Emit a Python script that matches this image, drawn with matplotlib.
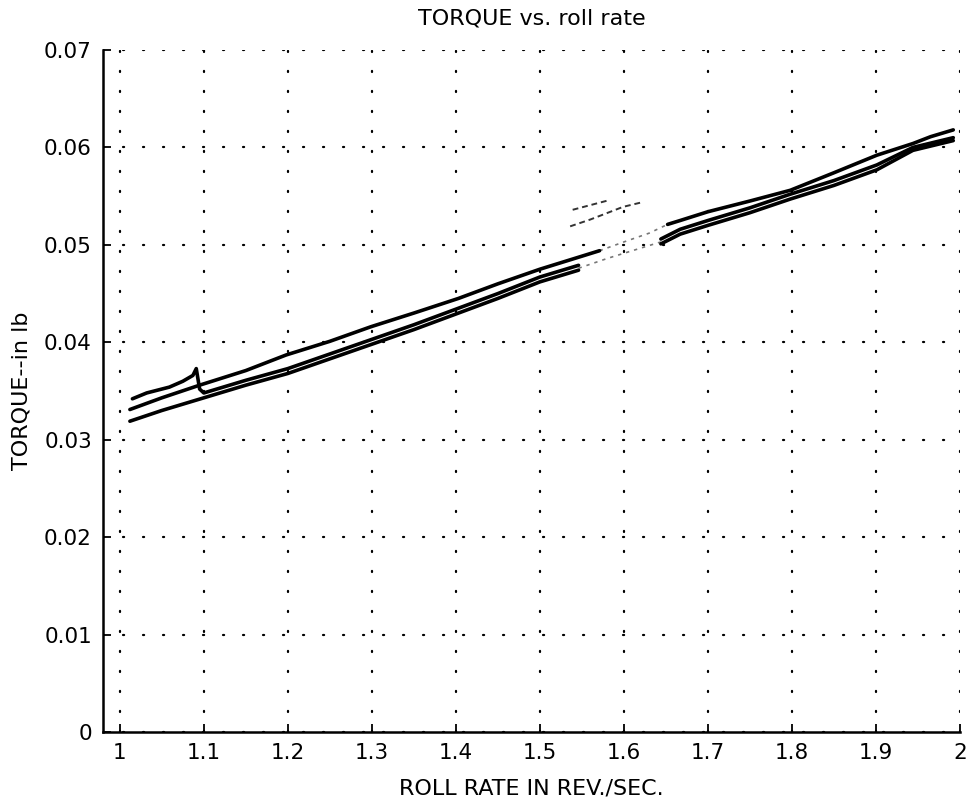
import numpy as np
import matplotlib
matplotlib.use("Agg")
import matplotlib.pyplot as plt

# ============================
# DATA (roll rate in rev/sec, torque in in-lb)
# ============================

# run A: upper trace, rises to a spike near 1.09 then drops into the lower band
runA_x = [1.015, 1.032, 1.059, 1.075, 1.087, 1.091, 1.095, 1.10, 1.15, 1.20, 1.25,
          1.30, 1.35, 1.40, 1.45, 1.50, 1.546]
runA_y = [0.0342, 0.0348, 0.0354, 0.0360, 0.0366, 0.0373, 0.0352, 0.0348, 0.0361,
          0.0373, 0.0388, 0.0403, 0.0418, 0.0434, 0.0450, 0.0467, 0.0479]
runA2_x = [1.644, 1.667, 1.70, 1.75, 1.798, 1.85, 1.901, 1.944, 1.992]
runA2_y = [0.0506, 0.0516, 0.0525, 0.0538, 0.0552, 0.0566, 0.0582, 0.0600, 0.0610]

# run B: middle trace at start, top trace for the rest of the sweep
runB_x = [1.012, 1.05, 1.095, 1.15, 1.198, 1.25, 1.299, 1.35, 1.403, 1.45, 1.50, 1.571]
runB_y = [0.0331, 0.0343, 0.0356, 0.0371, 0.0387, 0.0401, 0.0416, 0.0430, 0.0445,
          0.0460, 0.0475, 0.0494]
runB2_x = [1.652, 1.667, 1.70, 1.75, 1.798, 1.85, 1.901, 1.944, 1.965, 1.992]
runB2_y = [0.0521, 0.0525, 0.0534, 0.0545, 0.0556, 0.0574, 0.0592, 0.0604, 0.0611, 0.0618]

# run C: lowest trace
runC_x = [1.012, 1.05, 1.10, 1.15, 1.20, 1.25, 1.30, 1.35, 1.40, 1.45, 1.50, 1.546]
runC_y = [0.0319, 0.0330, 0.0343, 0.0356, 0.0368, 0.0383, 0.0398, 0.0413, 0.0429,
          0.0445, 0.0462, 0.0474]
runC2_x = [1.644, 1.667, 1.70, 1.75, 1.798, 1.85, 1.901, 1.944, 1.992]
runC2_y = [0.0501, 0.0511, 0.0520, 0.0533, 0.0547, 0.0561, 0.0577, 0.0597, 0.0607]

# faded stretch of the plotter output around 1.55 - 1.65
fadeB_x = [1.571, 1.60, 1.63, 1.652]
fadeB_y = [0.0494, 0.0503, 0.0512, 0.0521]
fadeC_x = [1.546, 1.58, 1.61, 1.644]
fadeC_y = [0.0476, 0.0486, 0.0494, 0.0503]
ghost1_x = [1.539, 1.583]
ghost1_y = [0.0536, 0.0546]
ghost2_x = [1.536, 1.560, 1.599, 1.623]
ghost2_y = [0.0519, 0.0526, 0.0539, 0.0544]

xticks = [1, 1.1, 1.2, 1.3, 1.4, 1.5, 1.6, 1.7, 1.8, 1.9, 2]
xtick_labels = ["1", "1.1", "1.2", "1.3", "1.4", "1.5", "1.6", "1.7", "1.8", "1.9", "2"]
yticks = [0, 0.01, 0.02, 0.03, 0.04, 0.05, 0.06, 0.07]
ytick_labels = ["0", "0.01", "0.02", "0.03", "0.04", "0.05", "0.06", "0.07"]

# ============================
# PLOT
# ============================

plt.rcParams['font.family'] = ['DejaVu Sans']

fig = plt.figure(figsize=(9.69, 8.01), dpi=100)
ax = fig.add_axes([0.1063, 0.0861, 0.8844, 0.8515])

lw = 2.6
for xs, ys in [(runA_x, runA_y), (runA2_x, runA2_y), (runB_x, runB_y),
               (runB2_x, runB2_y), (runC_x, runC_y), (runC2_x, runC2_y)]:
    ax.plot(xs, ys, color='black', lw=lw, solid_joinstyle='round',
            solid_capstyle='round', zorder=3)

for xs, ys in [(fadeB_x, fadeB_y), (fadeC_x, fadeC_y)]:
    ax.plot(xs, ys, color='#777777', lw=1.2, linestyle=(0, (2, 3)), zorder=2)
for xs, ys in [(ghost1_x, ghost1_y), (ghost2_x, ghost2_y)]:
    ax.plot(xs, ys, color='#333333', lw=1.4, linestyle=(0, (3, 2)), zorder=2)

ax.set_xlim(0.98, 2.0)
ax.set_ylim(0, 0.07)
ax.set_xticks(xticks)
ax.set_xticklabels(xtick_labels)
ax.set_yticks(yticks)
ax.set_yticklabels(ytick_labels)

ax.grid(True, color='black', linestyle=(0, (0.5, 8.5)), lw=1.6, dash_capstyle='round')
ax.set_axisbelow(True)

for side in ['top', 'right']:
    ax.spines[side].set_visible(False)
for side in ['left', 'bottom']:
    ax.spines[side].set_linewidth(1.8)

ax.tick_params(direction='in', length=6, width=1.3, labelsize=15.5, pad=8)

ax.set_title("TORQUE vs. roll rate", fontsize=16, pad=18)
ax.set_xlabel("ROLL RATE IN REV./SEC.", fontsize=16, labelpad=11)
ax.set_ylabel("TORQUE--in lb", fontsize=16, labelpad=9)

fig.savefig("out.png", dpi=100)
